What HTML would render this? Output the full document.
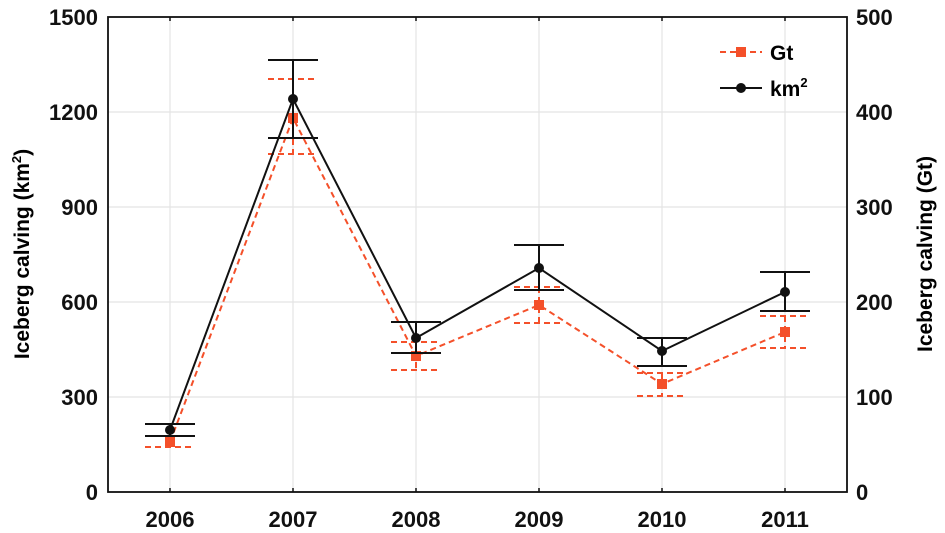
<!DOCTYPE html>
<html><head><meta charset="utf-8"><style>
html,body{margin:0;padding:0;background:#fff;}
svg{display:block;font-family:"Liberation Sans",Arial,sans-serif;font-weight:bold;}
</style></head><body>
<svg width="945" height="533" viewBox="0 0 945 533" xmlns="http://www.w3.org/2000/svg">
<g stroke="#e4e4e4" stroke-width="1.2">
<line x1="170" y1="17" x2="170" y2="492"/><line x1="293" y1="17" x2="293" y2="492"/>
<line x1="416" y1="17" x2="416" y2="492"/><line x1="539" y1="17" x2="539" y2="492"/>
<line x1="662" y1="17" x2="662" y2="492"/><line x1="785" y1="17" x2="785" y2="492"/>
<line x1="108" y1="112" x2="847" y2="112"/><line x1="108" y1="207" x2="847" y2="207"/>
<line x1="108" y1="302" x2="847" y2="302"/><line x1="108" y1="397" x2="847" y2="397"/>
</g>
<rect x="108" y="17" width="739" height="475" fill="none" stroke="#111" stroke-width="1.8"/>
<g stroke="#111" stroke-width="1.5">
<line x1="170" y1="17" x2="170" y2="21"/><line x1="293" y1="17" x2="293" y2="21"/><line x1="416" y1="17" x2="416" y2="21"/><line x1="539" y1="17" x2="539" y2="21"/><line x1="662" y1="17" x2="662" y2="21"/><line x1="785" y1="17" x2="785" y2="21"/>
<line x1="170" y1="492" x2="170" y2="488"/><line x1="293" y1="492" x2="293" y2="488"/><line x1="416" y1="492" x2="416" y2="488"/><line x1="539" y1="492" x2="539" y2="488"/><line x1="662" y1="492" x2="662" y2="488"/><line x1="785" y1="492" x2="785" y2="488"/>
</g>
<g stroke="#f4502a" stroke-width="2" stroke-dasharray="6,4" fill="none">
<polyline points="170,442 293,118 416,356 539,305 662,384 785,332"/>
<path d="M170,436V447M145,436H195M145,447H195 M293,79V154M268,79H318M268,154H318 M416,342V370M391,342H441M391,370H441 M539,287V323M514,287H564M514,323H564 M662,373V396M637,373H687M637,396H687 M785,316V348M760,316H810M760,348H810"/>
</g>
<g fill="#f4502a">
<rect x="165" y="437" width="10" height="10"/><rect x="288" y="113" width="10" height="10"/><rect x="411" y="351" width="10" height="10"/><rect x="534" y="300" width="10" height="10"/><rect x="657" y="379" width="10" height="10"/><rect x="780" y="327" width="10" height="10"/>
</g>
<g stroke="#111" stroke-width="2" fill="none">
<polyline points="170,430 293,99 416,338 539,268 662,351 785,292"/>
<path d="M170,424V436M145,424H195M145,436H195 M293,60V138M268,60H318M268,138H318 M416,322V353M391,322H441M391,353H441 M539,245V290M514,245H564M514,290H564 M662,338V366M637,338H687M637,366H687 M785,272V311M760,272H810M760,311H810"/>
</g>
<g fill="#111">
<circle cx="170" cy="430" r="5"/><circle cx="293" cy="99" r="5"/><circle cx="416" cy="338" r="5"/><circle cx="539" cy="268" r="5"/><circle cx="662" cy="351" r="5"/><circle cx="785" cy="292" r="5"/>
</g>
<line x1="720" y1="52" x2="762" y2="52" stroke="#f4502a" stroke-width="2" stroke-dasharray="6,4"/>
<rect x="736" y="47" width="10" height="10" fill="#f4502a"/>
<text x="770" y="60" font-size="21">Gt</text>
<line x1="720" y1="88" x2="762" y2="88" stroke="#111" stroke-width="2"/>
<circle cx="741" cy="88" r="5" fill="#111"/>
<text x="770" y="96" font-size="21">km<tspan font-size="13" dy="-9">2</tspan></text>
<g font-size="22" text-anchor="end" fill="#111">
<text x="98" y="25">1500</text><text x="98" y="120">1200</text><text x="98" y="215">900</text><text x="98" y="310">600</text><text x="98" y="405">300</text><text x="98" y="500">0</text>
</g>
<g font-size="22" text-anchor="start" fill="#111">
<text x="856" y="25">500</text><text x="856" y="120">400</text><text x="856" y="215">300</text><text x="856" y="310">200</text><text x="856" y="405">100</text><text x="856" y="500">0</text>
</g>
<g font-size="22" text-anchor="middle" fill="#111">
<text x="170" y="527">2006</text><text x="293" y="527">2007</text><text x="416" y="527">2008</text><text x="539" y="527">2009</text><text x="662" y="527">2010</text><text x="785" y="527">2011</text>
</g>
<text transform="translate(29,254) rotate(-90)" font-size="21" text-anchor="middle">Iceberg calving (km<tspan font-size="13" dy="-8">2</tspan><tspan dy="8">)</tspan></text>
<text transform="translate(932,254) rotate(-90)" font-size="21" text-anchor="middle">Iceberg calving (Gt)</text>
</svg>
</body></html>
